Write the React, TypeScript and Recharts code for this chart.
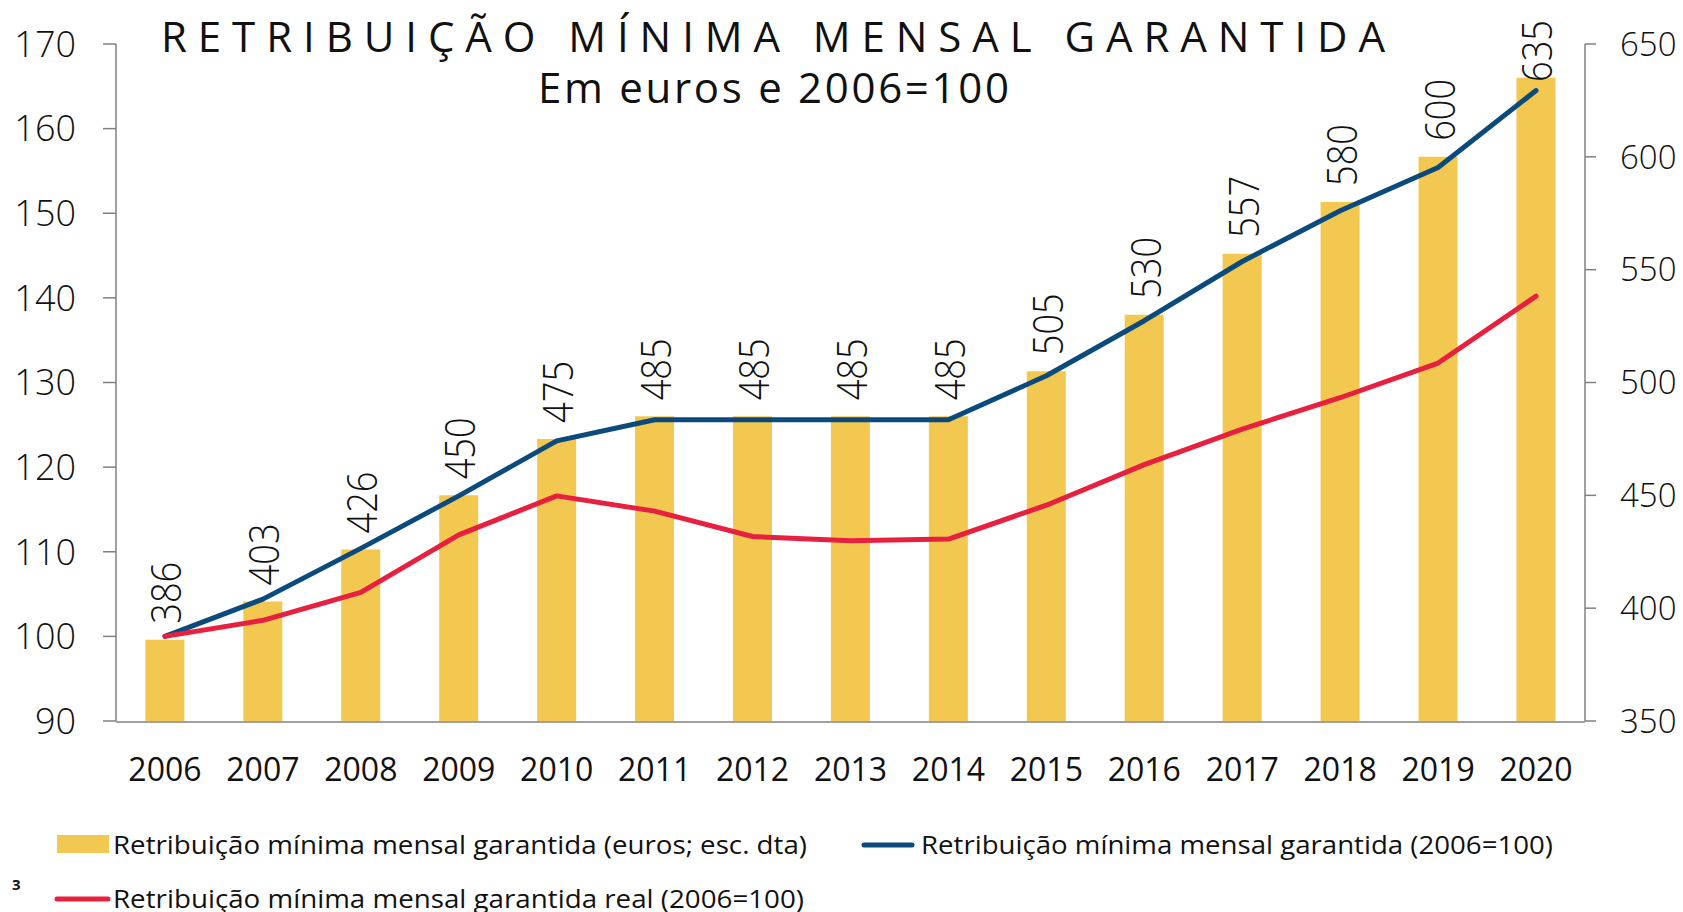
import React from 'react';
import { ComposedChart, Bar, Line, XAxis, YAxis, LabelList } from 'recharts';

const years = ['2006', '2007', '2008', '2009', '2010', '2011', '2012', '2013', '2014', '2015', '2016', '2017', '2018', '2019', '2020'];
const rmmgEuros = [386, 403, 426, 450, 475, 485, 485, 485, 485, 505, 530, 557, 580, 600, 635];
const rmmgIndex = [100, 104.4, 110.4, 116.6, 123.1, 125.6, 125.6, 125.6, 125.6, 130.8, 137.3, 144.3, 150.3, 155.4, 164.5];
const rmmgRealIndex = [100, 101.9, 105.2, 112.0, 116.6, 114.8, 111.8, 111.3, 111.5, 115.5, 120.3, 124.5, 128.2, 132.3, 140.2];
const leftTicks = [90, 100, 110, 120, 130, 140, 150, 160, 170];
const rightTicks = [350, 400, 450, 500, 550, 600, 650];
const boundaryTicks = [0, 1, 2, 3, 4, 5, 6, 7, 8, 9, 10, 11, 12, 13, 14, 15];
const seriesNames = [
  'Retribuição mínima mensal garantida (euros; esc. dta)',
  'Retribuição mínima mensal garantida (2006=100)',
  'Retribuição mínima mensal garantida real (2006=100)',
];
const titleText = 'RETRIBUIÇÃO MÍNIMA MENSAL GARANTIDA';
const subtitleText = 'Em euros e 2006=100';
const footnoteText = '3';

const data = years.map((y, i) => ({
  year: y,
  euros: rmmgEuros[i],
  idx: rmmgIndex[i],
  real: rmmgRealIndex[i],
}));

const BAR = '#F2C850';
const BLUE = '#0B4A7D';
const RED = '#E8203F';
const AXIS = '#808080';
const TXT = '#111111';
const FONT = '"Open Sans", "DejaVu Sans", sans-serif';

const BarLabel = (props: any) => {
  const { x, y, width, value } = props;
  const cx = Number(x) + Number(width) / 2;
  const start = Math.max(Number(y) - 16, 82);
  return (
    <text
      transform={`translate(${cx},${start}) rotate(-90)`}
      textAnchor="start"
      dominantBaseline="central"
      fontSize={42}
      fontWeight={300}
      fontFamily={FONT}
      fill={TXT}
      textLength={62}
      lengthAdjust="spacingAndGlyphs"
    >
      {value}
    </text>
  );
};

export default function App() {
  return (
    <div style={{ position: 'absolute', left: 0, top: 0, width: 1683, height: 912, overflow: 'hidden', background: '#fff' }}>
      <ComposedChart
        width={1683}
        height={912}
        data={data}
        margin={{ top: 44, right: 8, left: 16, bottom: 130 }}
        barCategoryGap="30%"
      >
        <XAxis
          xAxisId="b"
          type="number"
          domain={[0, 15]}
          ticks={boundaryTicks}
          allowDataOverflow
          tick={false}
          tickSize={11}
          tickLine={{ stroke: AXIS, strokeWidth: 1.5 }}
          axisLine={false}
          height={1}
        />
        <XAxis
          xAxisId="cat"
          dataKey="year"
          type="category"
          interval={0}
          height={60}
          tickLine={false}
          tickSize={0}
          tickMargin={36}
          axisLine={{ stroke: AXIS, strokeWidth: 1.5 }}
          tick={{ fontSize: 32, fontFamily: FONT, fill: TXT }}
        />
        <YAxis
          yAxisId="left"
          orientation="left"
          domain={[90, 170]}
          ticks={leftTicks}
          interval={0}
          width={100}
          tickSize={13}
          tickMargin={27}
          axisLine={{ stroke: AXIS, strokeWidth: 1.5 }}
          tickLine={{ stroke: AXIS, strokeWidth: 1.5 }}
          tick={{ fontSize: 36, fontFamily: FONT, fontWeight: 300, fill: TXT }}
        />
        <YAxis
          yAxisId="right"
          orientation="right"
          domain={[350, 650]}
          ticks={rightTicks}
          interval={0}
          width={90}
          tickSize={11}
          tickMargin={24}
          axisLine={{ stroke: AXIS, strokeWidth: 1.5 }}
          tickLine={{ stroke: AXIS, strokeWidth: 1.5 }}
          tick={{ fontSize: 33, fontFamily: FONT, fontWeight: 300, fill: TXT }}
        />
        <Bar xAxisId="cat" yAxisId="right" dataKey="euros" name={seriesNames[0]} fill={BAR} isAnimationActive={false}>
          <LabelList dataKey="euros" content={BarLabel} />
        </Bar>
        <Line
          xAxisId="cat"
          yAxisId="left"
          dataKey="idx"
          name={seriesNames[1]}
          stroke={BLUE}
          strokeWidth={5}
          strokeLinecap="round"
          strokeLinejoin="round"
          dot={false}
          activeDot={false}
          isAnimationActive={false}
          type="linear"
        />
        <Line
          xAxisId="cat"
          yAxisId="left"
          dataKey="real"
          name={seriesNames[2]}
          stroke={RED}
          strokeWidth={5}
          strokeLinecap="round"
          strokeLinejoin="round"
          dot={false}
          activeDot={false}
          isAnimationActive={false}
          type="linear"
        />
      </ComposedChart>
      <svg width={1683} height={912} style={{ position: 'absolute', left: 0, top: 0, pointerEvents: 'none' }}>
        <text x={161} y={52} fontSize={42} fontFamily={FONT} fill={TXT} textLength={1224} lengthAdjust="spacing">
          {titleText}
        </text>
        <text x={538} y={103} fontSize={42} fontFamily={FONT} fill={TXT} textLength={471} lengthAdjust="spacing">
          {subtitleText}
        </text>
        <rect x={57} y={835} width={52} height={18} fill={BAR} />
        <text x={113} y={854} fontSize={26} fontFamily={FONT} fill={TXT} textLength={694} lengthAdjust="spacingAndGlyphs">
          {seriesNames[0]}
        </text>
        <line x1={864} y1={845} x2={912} y2={845} stroke={BLUE} strokeWidth={5} strokeLinecap="round" />
        <text x={921} y={854} fontSize={26} fontFamily={FONT} fill={TXT} textLength={632} lengthAdjust="spacingAndGlyphs">
          {seriesNames[1]}
        </text>
        <line x1={57} y1={899} x2={108} y2={899} stroke={RED} strokeWidth={5} strokeLinecap="round" />
        <text x={113} y={908} fontSize={26} fontFamily={FONT} fill={TXT} textLength={691} lengthAdjust="spacingAndGlyphs">
          {seriesNames[2]}
        </text>
        <text x={12} y={890} fontSize={15} fontWeight={700} fontFamily={FONT} fill={TXT}>
          {footnoteText}
        </text>
      </svg>
    </div>
  );
}
